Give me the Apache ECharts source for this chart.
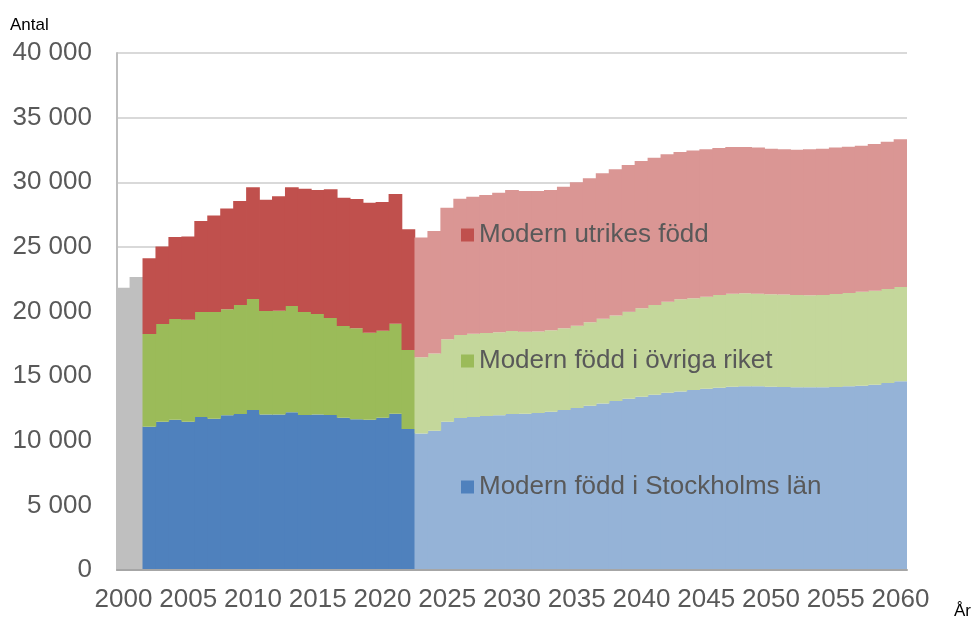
<!DOCTYPE html>
<html>
<head>
<meta charset="utf-8">
<script src="https://cdn.jsdelivr.net/npm/echarts@6/dist/echarts.min.js"></script>
<style>
html, body { margin: 0; padding: 0; background: #ffffff; }
#chart { width: 976px; height: 619px; }
</style>
</head>
<body>
<div id="chart"></div>
<script>
// år 2000 - 2060
var years = [];
for (var y = 2000; y <= 2060; y++) years.push(String(y));

// 2000-2001: bara totalen finns
var totalOnly = [21840, 22670];

// utfall 2002-2022
var histStockholm = [11090, 11470, 11630, 11470, 11840, 11710, 11970, 12070, 12380, 12040, 12040, 12200, 11990, 12040, 11990, 11780, 11660, 11630, 11780, 12090, 10910];
var histOvriga = [7170, 7560, 7790, 7900, 8120, 8250, 8200, 8430, 8590, 8000, 8020, 8230, 7970, 7770, 7510, 7100, 7040, 6730, 6740, 6970, 6110];
var histUtrikes = [5860, 5990, 6340, 6440, 7040, 7460, 7790, 8050, 8640, 8610, 8850, 9180, 9540, 9590, 9950, 9930, 10000, 10060, 9950, 10030, 9340];

// prognos 2023-2060
var progStockholm = [10560, 10780, 11470, 11760, 11840, 11920, 11970, 12070, 12090, 12150, 12250, 12380, 12530, 12710, 12890, 13080, 13250, 13410, 13560, 13720, 13820, 13930, 14030, 14100, 14180, 14210, 14210, 14180, 14160, 14130, 14130, 14130, 14160, 14210, 14260, 14340, 14470, 14600];
var progOvriga = [5900, 5980, 6380, 6420, 6440, 6420, 6420, 6420, 6350, 6310, 6290, 6320, 6370, 6450, 6550, 6620, 6730, 6840, 6940, 7040, 7120, 7100, 7120, 7180, 7200, 7200, 7170, 7150, 7150, 7150, 7120, 7150, 7190, 7220, 7270, 7270, 7270, 7300];
var progUtrikes = [9260, 9470, 10180, 10550, 10600, 10670, 10800, 10910, 10880, 10860, 10860, 10960, 11100, 11140, 11250, 11300, 11350, 11390, 11400, 11400, 11400, 11420, 11400, 11370, 11350, 11320, 11300, 11270, 11240, 11240, 11300, 11320, 11330, 11320, 11300, 11350, 11400, 11420];

var names = ['Modern född i Stockholms län', 'Modern född i övriga riket', 'Modern utrikes född'];
var darkColors = ['#4F81BD', '#9BBB59', '#C0504D'];
var lightColors = ['#95B3D7', '#C4D79B', '#DA9694'];
var grey = '#BFBFBF';
var font = 'Liberation Sans, Arial, sans-serif';

function buildData(hist, prog, idx) {
  var out = ['-', '-'];
  hist.forEach(function (v) {
    out.push({ value: v, itemStyle: { color: darkColors[idx] } });
  });
  prog.forEach(function (v) {
    out.push({ value: v, itemStyle: { color: lightColors[idx] } });
  });
  return out;
}

var greyData = totalOnly.slice();
for (var i = 2; i < years.length; i++) greyData.push('-');

var series = [{
  name: 'Totalt',
  type: 'bar',
  stack: 'a',
  barWidth: '106%',
  itemStyle: { color: grey },
  data: greyData
}];
var hists = [histStockholm, histOvriga, histUtrikes];
var progs = [progStockholm, progOvriga, progUtrikes];
for (var k = 0; k < 3; k++) {
  series.push({
    name: names[k],
    type: 'bar',
    stack: 'a',
    barWidth: '106%',
    itemStyle: { color: darkColors[k] },
    data: buildData(hists[k], progs[k], k)
  });
}

var chart = echarts.init(document.getElementById('chart'));
chart.setOption({
  animation: false,
  textStyle: { fontFamily: font },
  grid: { left: 117, right: 69, top: 53, bottom: 49, containLabel: false },
  legend: {
    data: ['Modern utrikes född', 'Modern född i övriga riket', 'Modern född i Stockholms län'],
    orient: 'vertical',
    left: 456,
    top: 216,
    itemWidth: 13,
    itemHeight: 13,
    itemGap: 98,
    icon: 'rect',
    selectedMode: false,
    textStyle: { fontSize: 26, color: '#595959', fontFamily: font, lineHeight: 28 }
  },
  xAxis: {
    type: 'category',
    data: years,
    axisLine: { lineStyle: { color: '#A6A6A6', width: 2 } },
    axisTick: { inside: true, length: 5, interval: 0, lineStyle: { color: '#A6A6A6' } },
    axisLabel: { interval: 4, fontSize: 26, color: '#595959', margin: 17, fontFamily: font },
    splitLine: { show: false },
    z: 10
  },
  yAxis: {
    type: 'value',
    min: 0,
    max: 40000,
    interval: 5000,
    axisLine: { show: true, lineStyle: { color: '#BFBFBF', width: 2 } },
    axisTick: { show: false },
    axisLabel: {
      fontSize: 26,
      color: '#595959',
      margin: 25,
      fontFamily: font,
      formatter: function (v) {
        return String(v).replace(/\B(?=(\d{3})+(?!\d))/g, ' ');
      }
    },
    splitLine: { lineStyle: { color: '#D9D9D9', width: 2 } }
  },
  graphic: [
    { type: 'text', left: 10, top: 17, style: { text: 'Antal', fontSize: 17, fill: '#000000', fontFamily: font } },
    { type: 'text', left: 954, top: 603, style: { text: 'År', fontSize: 17, fill: '#000000', fontFamily: font } }
  ],
  series: series
});
</script>
</body>
</html>
